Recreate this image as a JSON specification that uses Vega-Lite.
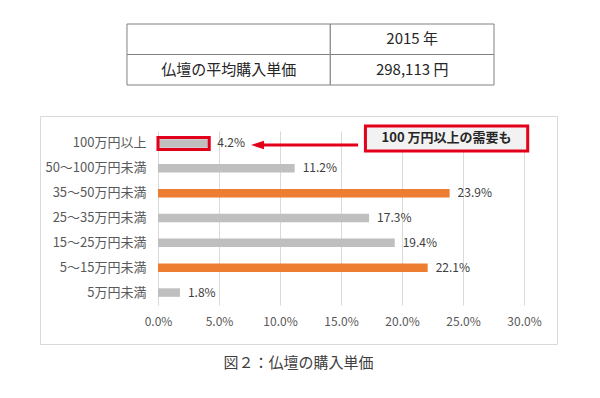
{
  "$schema": "https://vega.github.io/schema/vega-lite/v6.json",
  "padding": {"left": 39, "top": 23, "right": 5, "bottom": 5},
  "background": "white",
  "config": {"font": "Noto Sans CJK JP", "view": {"stroke": null}},
  "title": {"text": "図２：仏壇の購入単価", "orient": "bottom", "anchor": "middle", "fontSize": 15, "fontWeight": "normal", "color": "#404040", "offset": 11, "font": "Noto Sans CJK JP"},
  "datasets": {
    "table": [
      {"row": "header", "col": "label", "text": ""},
      {"row": "header", "col": "value", "text": "2015 年"},
      {"row": "body", "col": "label", "text": "仏壇の平均購入単価"},
      {"row": "body", "col": "value", "text": "298,113 円"}
    ],
    "price": [
      {"category": "100万円以上", "share": 0.042},
      {"category": "50～100万円未満", "share": 0.112},
      {"category": "35～50万円未満", "share": 0.239},
      {"category": "25～35万円未満", "share": 0.173},
      {"category": "15～25万円未満", "share": 0.194},
      {"category": "5～15万円未満", "share": 0.221},
      {"category": "5万円未満", "share": 0.018}
    ]
  },
  "spacing": 29,
  "vconcat": [
    {
      "width": 454,
      "height": 61,
      "data": {"name": "table"},
      "encoding": {
        "y": {"field": "row", "type": "nominal", "sort": ["header", "body"], "scale": {"paddingInner": 0, "paddingOuter": 0}, "axis": null}
      },
      "layer": [
        {
          "transform": [{"filter": "datum.col === 'label'"}],
          "mark": {"type": "rect", "fill": "white", "stroke": "#808080", "strokeWidth": 1},
          "encoding": {
            "x": {"datum": 0, "type": "quantitative", "scale": {"domain": [-0.237, 1], "nice": false, "zero": false}, "axis": null},
            "x2": {"datum": 0.554}
          }
        },
        {
          "transform": [{"filter": "datum.col === 'value'"}],
          "mark": {"type": "rect", "fill": "white", "stroke": "#808080", "strokeWidth": 1},
          "encoding": {
            "x": {"datum": 0.554, "type": "quantitative", "scale": {"domain": [-0.237, 1], "nice": false, "zero": false}, "axis": null},
            "x2": {"datum": 1}
          }
        },
        {
          "transform": [{"filter": "datum.col === 'label'"}],
          "mark": {"type": "text", "fontSize": 15, "color": "#262626"},
          "encoding": {
            "x": {"datum": 0.277, "type": "quantitative", "scale": {"domain": [-0.237, 1], "nice": false, "zero": false}, "axis": null},
            "text": {"field": "text"}
          }
        },
        {
          "transform": [{"filter": "datum.col === 'value'"}],
          "mark": {"type": "text", "fontSize": 15, "color": "#262626"},
          "encoding": {
            "x": {"datum": 0.777, "type": "quantitative", "scale": {"domain": [-0.237, 1], "nice": false, "zero": false}, "axis": null},
            "text": {"field": "text"}
          }
        }
      ]
    },
    {
      "width": 517,
      "height": 228,
      "view": {"stroke": "#d9d9d9", "strokeWidth": 1},
      "data": {"name": "price"},
      "encoding": {
        "y": {
          "field": "category", "type": "nominal", "sort": null,
          "scale": {"range": [15, 189], "paddingInner": 0, "paddingOuter": 0},
          "axis": {"title": null, "domain": false, "ticks": false, "labelPadding": 4, "offset": -110, "labelFontSize": 13, "labelColor": "#595959", "labelFont": "Noto Sans CJK JP"}
        }
      },
      "layer": [
        {
          "mark": {"type": "bar", "height": 8.5},
          "encoding": {
            "x": {
              "field": "share", "type": "quantitative",
              "scale": {"domain": [-0.0967, 0.327], "nice": false, "zero": false},
              "axis": {"orient": "top", "offset": -217, "values": [0, 0.05, 0.1, 0.15, 0.2, 0.25, 0.3], "format": ".1%", "title": null, "domain": false, "ticks": false, "tickSize": 0, "labelPadding": 5, "grid": true, "gridColor": "#d9d9d9", "gridWidth": 1, "labelFontSize": 12, "labelColor": "#595959", "labelFont": "Noto Sans CJK JP"}
            },
            "color": {
              "condition": {"test": "datum.category === '35～50万円未満' || datum.category === '5～15万円未満'", "value": "#ed7d31"},
              "value": "#bfbfbf"
            }
          }
        },
        {
          "transform": [{"filter": "datum.category === '100万円以上'"}],
          "mark": {"type": "bar", "height": 12, "fill": "transparent", "stroke": "#e3001b", "strokeWidth": 3},
          "encoding": {"x": {"field": "share", "type": "quantitative"}}
        },
        {
          "mark": {"type": "text", "align": "left", "dx": 8, "fontSize": 12, "color": "#404040"},
          "encoding": {
            "x": {"field": "share", "type": "quantitative"},
            "text": {"field": "share", "type": "quantitative", "format": ".1%"}
          }
        },
        {
          "transform": [{"filter": "datum.category === '100万円以上'"}],
          "mark": {"type": "rule", "color": "#e3001b", "strokeWidth": 3, "yOffset": 1.5},
          "encoding": {
            "x": {"datum": 0.085},
            "x2": {"datum": 0.164},
            "y": {"datum": "100万円以上"}
          }
        },
        {
          "transform": [{"filter": "datum.category === '100万円以上'"}],
          "mark": {"type": "point", "shape": "M-1,0L1,-0.65L1,0.65Z", "size": 169, "filled": true, "color": "#e3001b", "opacity": 1, "yOffset": 1.5},
          "encoding": {
            "x": {"datum": 0.0816},
            "y": {"datum": "100万円以上"}
          }
        },
        {
          "transform": [{"filter": "datum.category === '100万円以上'"}],
          "mark": {"type": "bar", "height": 25, "yOffset": -5, "fill": "#f2f2f2", "stroke": "#e3001b", "strokeWidth": 3},
          "encoding": {
            "x": {"datum": 0.170},
            "x2": {"datum": 0.303},
            "y": {"datum": "100万円以上"}
          }
        },
        {
          "transform": [{"filter": "datum.category === '100万円以上'"}],
          "mark": {"type": "text", "fontSize": 13, "fontWeight": "bold", "color": "#262626", "yOffset": -5},
          "encoding": {
            "x": {"datum": 0.2365},
            "y": {"datum": "100万円以上"},
            "text": {"value": "100 万円以上の需要も"}
          }
        }
      ]
    }
  ]
}
